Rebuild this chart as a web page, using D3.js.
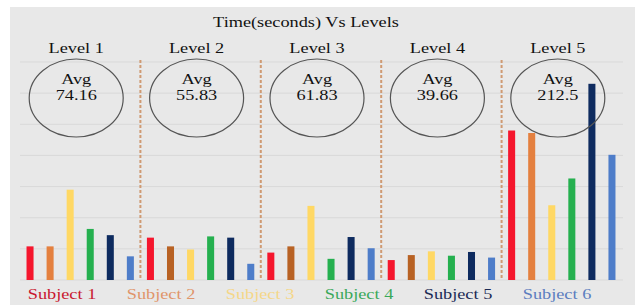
<!DOCTYPE html>
<html>
<head>
<meta charset="utf-8">
<script src="https://cdn.jsdelivr.net/npm/d3@7"></script>
<style>
  body { margin: 0; background: #fff; }
  text { font-family: "Liberation Serif", "DejaVu Serif", serif; }
</style>
</head>
<body>
<div id="chart"></div>
<script>
var title = "Time(seconds) Vs Levels"
var levels = ["Level 1", "Level 2", "Level 3", "Level 4", "Level 5"]
var subjects = ["Subject 1", "Subject 2", "Subject 3", "Subject 4", "Subject 5", "Subject 6"]
var averages = ["74.16", "55.83", "61.83", "39.66", "212.5"]

// seconds taken by each subject, one array per level
var level1Times = [54, 54, 145, 82, 72, 38]
var level2Times = [68, 54, 49, 70, 68, 26]
var level3Times = [44, 54, 119, 34, 69, 51]
var level4Times = [32, 40, 46, 39, 45, 36]
var level5Times = [240, 236, 120, 163, 315, 201]

var gridTicks = [0, 50, 100, 150, 200, 250, 300, 350]

var barColors = ['#f5162d', '#e4803f', '#ffd864', '#25b04f', '#0e2b5f', '#4e7dc9']
var brownColor = '#b86224'
var legendColors = ['#c8172f', '#e0956a', '#f5d788', '#3aa85a', '#1b2a55', '#5b7dbf']

var allTimes = [level1Times, level2Times, level3Times, level4Times, level5Times]

var chartWidth = 635
var chartHeight = 305
var margin = { left: 20, right: 13, top: 62, bottom: 25 }

var svg = d3.select("#chart")
  .append("svg")
  .attr("width", chartWidth)
  .attr("height", chartHeight)

// grey panel
svg.append("rect")
  .attr("x", 10)
  .attr("y", 7)
  .attr("width", chartWidth - 10)
  .attr("height", chartHeight - 7)
  .attr("fill", "#e8e8e8")

var xGroup = d3.scaleBand()
  .domain(levels)
  .range([margin.left, chartWidth - margin.right])
  .padding(0)

var xSub = d3.scaleBand()
  .domain(subjects)
  .range([0, xGroup.bandwidth()])
  .paddingInner(0.65)
  .paddingOuter(0.325)

var y = d3.scaleLinear()
  .domain([0, 350])
  .range([chartHeight - margin.bottom, margin.top])

// gridlines
svg.selectAll(".grid")
  .data(gridTicks)
  .enter()
  .append("line")
  .attr("x1", margin.left)
  .attr("x2", chartWidth - margin.right + 1)
  .attr("y1", function(d) { return y(d); })
  .attr("y2", function(d) { return y(d); })
  .attr("stroke", "#d9d9d9")
  .attr("stroke-width", 1)

// dashed dividers between levels
svg.selectAll(".divider")
  .data(levels.slice(1))
  .enter()
  .append("line")
  .attr("x1", function(d) { return xGroup(d); })
  .attr("x2", function(d) { return xGroup(d); })
  .attr("y1", y(350) - 2)
  .attr("y2", y(0))
  .attr("stroke", "#cf9a72")
  .attr("stroke-width", 2)
  .attr("stroke-dasharray", "3,2")

function label(x, yPos, txt, size, color) {
  svg.append("text")
    .attr("transform", "translate(" + x + "," + yPos + ") scale(1.18,1)")
    .attr("text-anchor", "middle")
    .attr("font-size", size)
    .attr("fill", color)
    .text(txt)
}

// bars
levels.forEach(function(lv, i) {
  var g = svg.append("g")
    .attr("transform", "translate(" + xGroup(lv) + ",0)")

  g.selectAll("rect")
    .data(allTimes[i])
    .enter()
    .append("rect")
    .attr("x", function(d, j) { return xSub(subjects[j]); })
    .attr("y", function(d) { return y(d); })
    .attr("width", xSub.bandwidth())
    .attr("height", function(d) { return y(0) - y(d); })
    .attr("fill", function(d, j) {
      if (j == 1 && i > 0 && i < 4) return brownColor;
      return barColors[j];
    })
})

// level headers and average ellipses
levels.forEach(function(lv, i) {
  var cx = xGroup(lv) + xGroup.bandwidth() / 2 - 4
  label(cx, 53, lv, 15.5, "#111")

  svg.append("ellipse")
    .attr("cx", cx)
    .attr("cy", 98)
    .attr("rx", 47)
    .attr("ry", 39)
    .attr("fill", "none")
    .attr("stroke", "#555")
    .attr("stroke-width", 1.2)

  label(cx, 84, "Avg", 15.5, "#111")
  label(cx, 100, averages[i], 15.5, "#111")
})

label(306, 27, title, 15.5, "#111")

// subject legend
var xLegend = d3.scalePoint()
  .domain(subjects)
  .range([62, 557])

subjects.forEach(function(s, j) {
  label(xLegend(s), 298.5, s, 15.5, legendColors[j])
})
</script>
</body>
</html>
